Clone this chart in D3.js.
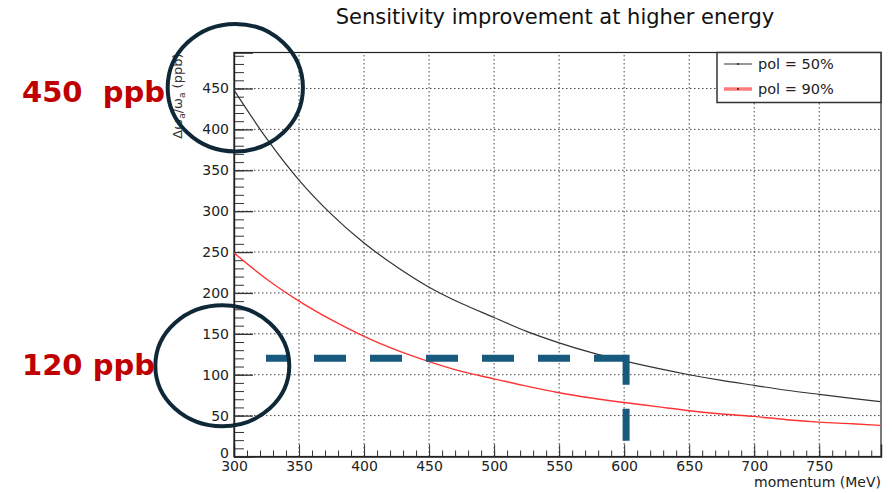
<!DOCTYPE html>
<html>
<head>
<meta charset="utf-8">
<script src="https://cdn.jsdelivr.net/npm/d3@7"></script>
<style>
  body { margin: 0; background: #fff; }
  svg { display: block; }
  .tick text { font-family: "DejaVu Sans", sans-serif; }
</style>
</head>
<body>
<svg id="chart" width="892" height="493"></svg>
<script>
// values
var momentum = [300, 325, 350, 375, 400, 425, 450, 475, 500, 525, 550, 575, 600, 625, 650, 675, 700, 725, 750, 775, 797]
var pol50 = [448, 389, 338, 296, 261, 232, 207, 187, 170, 153, 139, 127, 117, 108, 100, 93, 87, 81, 76, 71, 67]
var pol90 = [249, 217, 190, 167, 147, 130, 116, 104, 95, 86, 78, 71.5, 66, 61, 56, 52, 49, 45, 42, 40, 38]

var xTickValues = [300, 350, 400, 450, 500, 550, 600, 650, 700, 750]
var yTickValues = [0, 50, 100, 150, 200, 250, 300, 350, 400, 450]

var seriesNames = ['pol = 50%', 'pol = 90%']
var seriesColors = ['#333333', '#ff3333']

// the hand drawn marks on top (in data units)
var callouts = ['450  ppb', '120 ppb']
var calloutValues = [450, 120]
var rings = [ { x: 301, y: 451, rx: 52, ry: 78 }, { x: 291, y: 111, rx: 51.5, ry: 74 } ]
var target = { y: 120, x0: 324.6, x1: 601.5, yEnd: 19 }

function draw () {
  var svg = d3.select('#chart')
  var fnt = '"DejaVu Sans", sans-serif'

  var pLeft = 234, pRight = 881, pTop = 52.5, pBottom = 456.5

  var x = d3.scaleLinear().domain([300, 797.5]).range([pLeft, pRight])
  var y = d3.scaleLinear().domain([0, 494]).range([pBottom, pTop])

  // title
  svg.append('text')
    .attr('x', 555).attr('y', 24)
    .attr('text-anchor', 'middle')
    .style('font-family', fnt).style('font-size', '21px')
    .attr('fill', '#111')
    .text('Sensitivity improvement at higher energy')

  // dotted grid
  var grid = svg.append('g').attr('stroke', '#444').attr('stroke-width', 1)
    .attr('stroke-dasharray', '1.5,2.5')
  grid.selectAll('.gx').data(xTickValues.slice(1)).enter().append('line')
    .attr('x1', d => x(d)).attr('x2', d => x(d))
    .attr('y1', pBottom).attr('y2', pTop)
  grid.selectAll('.gy').data(yTickValues.slice(1)).enter().append('line')
    .attr('y1', d => y(d)).attr('y2', d => y(d))
    .attr('x1', pLeft).attr('x2', pRight)

  // frame
  svg.append('rect')
    .attr('x', pLeft).attr('y', pTop)
    .attr('width', pRight - pLeft).attr('height', pBottom - pTop)
    .attr('fill', 'none').attr('stroke', '#222').attr('stroke-width', 1.2)

  // minor ticks
  var xMinor = d3.range(300, 797, 10)
  var yMinor = d3.range(0, 494, 10)

  svg.append('g')
    .attr('transform', 'translate(0,' + pBottom + ')')
    .call(d3.axisBottom(x).tickValues(xMinor).tickSize(-6).tickFormat(''))
    .call(g => g.select('.domain').remove())

  svg.append('g')
    .attr('transform', 'translate(' + pLeft + ',0)')
    .call(d3.axisLeft(y).tickValues(yMinor).tickSize(-10).tickFormat(''))
    .call(g => g.select('.domain').remove())

  // major ticks + labels
  var xAxis = svg.append('g')
    .attr('transform', 'translate(0,' + pBottom + ')')
    .call(d3.axisBottom(x).tickValues(xTickValues).tickSize(-12).tickPadding(5))
  xAxis.select('.domain').attr('stroke', '#222').attr('stroke-width', 1.4)
  xAxis.selectAll('.tick text').style('font-size', '14px').attr('fill', '#222')

  var yAxis = svg.append('g')
    .attr('transform', 'translate(' + pLeft + ',0)')
    .call(d3.axisLeft(y).tickValues(yTickValues).tickSize(-19).tickPadding(5))
  yAxis.select('.domain').attr('stroke', '#222').attr('stroke-width', 1.4)
  yAxis.selectAll('.tick text').style('font-size', '14px').attr('fill', '#222')
    .attr('dy', d => d === 0 ? '0.1em' : '0.32em')
  yAxis.selectAll('.tick line').attr('stroke-width', 1.3)

  svg.selectAll('.tick line').attr('stroke', '#333')

  // axis titles
  svg.append('text')
    .attr('x', pRight).attr('y', 487)
    .attr('text-anchor', 'end')
    .style('font-family', fnt).style('font-size', '14px')
    .attr('fill', '#222')
    .text('momentum (MeV)')

  var yt = svg.append('text')
    .attr('transform', 'translate(182,' + (pTop + 1) + ') rotate(-90)')
    .attr('text-anchor', 'end')
    .style('font-family', fnt).style('font-size', '13px')
    .attr('fill', '#333')
  yt.append('tspan').text('Δω')
  yt.append('tspan').attr('dy', 3).style('font-size', '9px').text('a')
  yt.append('tspan').attr('dy', -3).text('/ω')
  yt.append('tspan').attr('dy', 3).style('font-size', '9px').text('a')
  yt.append('tspan').attr('dy', -3).text(' (ppb)')

  // curves
  var line = d3.line()
    .x(d => x(d[0]))
    .y(d => y(d[1]))
    .curve(d3.curveMonotoneX)

  var series = [pol50, pol90]
  series.forEach(function (vals, i) {
    svg.append('path')
      .datum(momentum.map((m, j) => [m, vals[j]]))
      .attr('d', line)
      .attr('fill', 'none')
      .attr('stroke', seriesColors[i])
      .attr('stroke-width', i === 0 ? 1.2 : 1.4)
  })

  // legend
  var lg = svg.append('g')
  lg.append('rect')
    .attr('x', 717).attr('y', pTop).attr('width', pRight - 717).attr('height', 50)
    .attr('fill', '#fff').attr('stroke', '#333').attr('stroke-width', 1.5)
  seriesNames.forEach(function (name, i) {
    var ly = 64 + i * 25
    lg.append('line')
      .attr('x1', 724).attr('x2', 752).attr('y1', ly).attr('y2', ly)
      .attr('stroke', i === 0 ? '#777' : '#ff7a7a')
      .attr('stroke-width', i === 0 ? 1.5 : 3.5)
    lg.append('circle').attr('cx', 738).attr('cy', ly).attr('r', 1)
      .attr('fill', '#222')
    lg.append('text')
      .attr('x', 758).attr('y', ly + 5)
      .style('font-family', fnt).style('font-size', '14.5px')
      .attr('fill', '#222')
      .text(name)
  })

  // dashed target line
  var navy = '#175a7d'
  svg.append('line')
    .attr('x1', x(target.x0)).attr('x2', x(target.x1))
    .attr('y1', y(target.y)).attr('y2', y(target.y))
    .attr('stroke', navy).attr('stroke-width', 7)
    .attr('stroke-dasharray', '32,24').attr('stroke-dashoffset', 8)
  svg.append('line')
    .attr('x1', x(target.x1)).attr('x2', x(target.x1))
    .attr('y1', y(target.y) - 3.5).attr('y2', y(target.yEnd))
    .attr('stroke', navy).attr('stroke-width', 7)
    .attr('stroke-dasharray', '30,24,32')

  // circles
  svg.selectAll('.ring').data(rings).enter().append('ellipse')
    .attr('cx', d => x(d.x)).attr('cy', d => y(d.y))
    .attr('rx', d => x(300 + d.rx) - x(300))
    .attr('ry', d => y(0) - y(d.ry))
    .attr('fill', 'none').attr('stroke', '#0f2838').attr('stroke-width', 4)

  // red callouts
  svg.selectAll('.callout').data(callouts).enter().append('text')
    .attr('x', 22)
    .attr('y', (d, i) => y(calloutValues[i]) + (i === 0 ? 14 : 16.5))
    .style('white-space', 'pre')
    .style('font-family', fnt)
    .style('font-weight', 'bold').style('font-size', '29px')
    .attr('fill', '#c00000')
    .text(d => d)
}

draw()
</script>
</body>
</html>
